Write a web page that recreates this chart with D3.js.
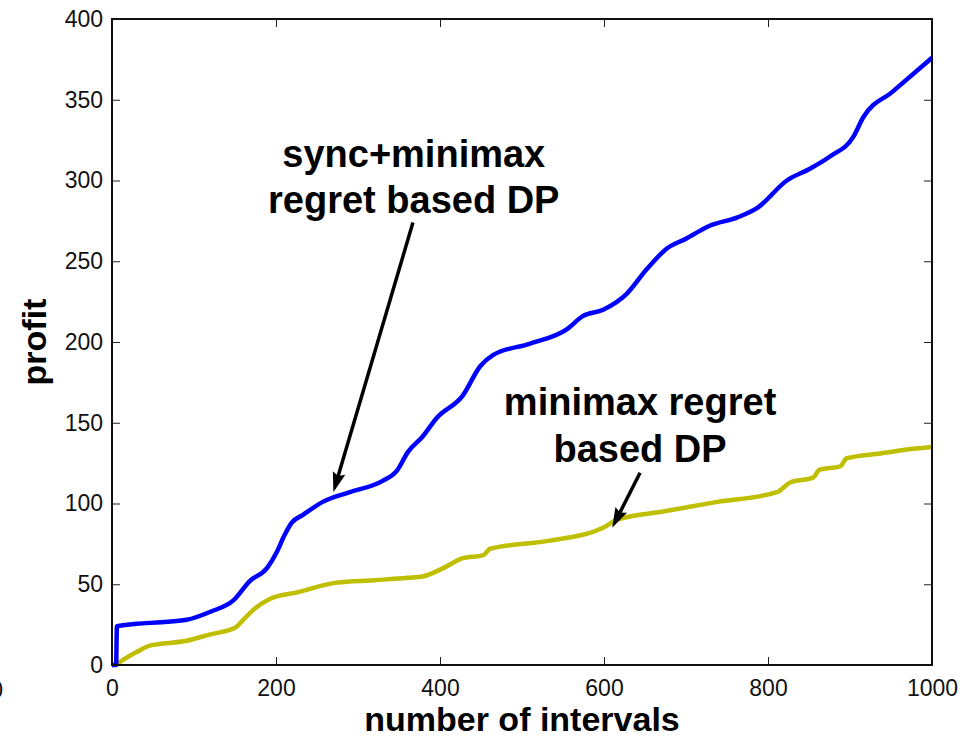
<!DOCTYPE html>
<html>
<head>
<meta charset="utf-8">
<script src="https://cdn.jsdelivr.net/npm/d3@7"></script>
<style>
  body { margin: 0; background: #fff; }
  svg { display: block; font-family: "Liberation Sans", Arial, Helvetica, sans-serif; }
</style>
</head>
<body>
<div id="chart"></div>
<script>
// sync+minimax regret based DP (blue)
const syncX = [0, 5, 6, 30, 60, 91, 120, 148, 168, 189, 201, 210, 219, 233, 257, 290, 330, 347, 361, 378, 396, 428, 449, 465, 510, 555, 574, 599, 628, 652, 677, 700, 729, 762, 787, 823, 850, 876, 904, 916, 952, 1000];
const syncY = [0, 0, 24, 25.5, 26.5, 28, 33, 40, 52, 60, 70, 80, 88, 93, 101, 107, 114, 120, 132, 141, 153, 167, 185, 192, 199, 208, 216, 220, 230, 245, 258, 264, 272, 277, 283, 300, 307, 315, 327, 339, 355, 376];

// minimax regret based DP (yellow)
const mmX = [0, 5, 13, 30, 46, 91, 120, 150, 160, 172, 193, 226, 274, 320, 361, 380, 404, 427, 453, 461, 534, 599, 616, 672, 738, 811, 827, 855, 863, 888, 896, 937, 980, 1000];
const mmY = [0, 0.5, 3, 8, 12, 15, 19, 23, 28, 34, 41, 45, 51, 52.5, 54, 55, 60, 66, 68, 72, 77, 85, 90, 95, 101, 107, 113, 116, 121, 123, 128, 131, 134, 135];

const xTicks = [0, 200, 400, 600, 800, 1000];
const yTicks = [0, 50, 100, 150, 200, 250, 300, 350, 400];

const W = 965, H = 738;
const svg = d3.select("#chart").append("svg")
    .attr("width", W)
    .attr("height", H);

const x = d3.scaleLinear().domain([0, 1000]).range([112, 932]);
const y = d3.scaleLinear().domain([0, 400]).range([665, 19]);

// axes, ticks pointing inward
const tickStyle = g => {
    g.select(".domain").remove();
    g.selectAll(".tick line").attr("stroke", "#222").attr("stroke-width", 1);
    g.selectAll("text").style("font-size", "23px").attr("fill", "#111");
};

svg.append("g")
    .attr("transform", `translate(0,${y(0)})`)
    .call(d3.axisBottom(x).tickValues(xTicks).tickSize(-8).tickPadding(15).tickFormat(d3.format("d")))
    .call(tickStyle);

svg.append("g")
    .attr("transform", `translate(${x(0)},0)`)
    .call(d3.axisLeft(y).tickValues(yTicks).tickSize(-8).tickPadding(9).tickFormat(d3.format("d")))
    .call(tickStyle);

svg.append("g")
    .attr("transform", `translate(0,${y(400)})`)
    .call(d3.axisTop(x).tickValues(xTicks).tickSize(-8).tickFormat(""))
    .call(tickStyle);

svg.append("g")
    .attr("transform", `translate(${x(1000)},0)`)
    .call(d3.axisRight(y).tickValues(yTicks).tickSize(-8).tickFormat(""))
    .call(tickStyle);

// lines
const line = d3.line()
    .x(d => x(d[0]))
    .y(d => y(d[1]))
    .curve(d3.curveMonotoneX);

svg.append("path")
    .datum(mmX.map((v, i) => [v, mmY[i]]))
    .attr("d", line)
    .attr("fill", "none")
    .attr("stroke", "#bfbf00")
    .attr("stroke-width", 4.5)
    .attr("stroke-linejoin", "round");

svg.append("path")
    .datum(syncX.map((v, i) => [v, syncY[i]]))
    .attr("d", line)
    .attr("fill", "none")
    .attr("stroke", "#0000ff")
    .attr("stroke-width", 4.5)
    .attr("stroke-linejoin", "round");

// frame
svg.append("rect")
    .attr("x", x(0))
    .attr("y", y(400))
    .attr("width", x(1000) - x(0))
    .attr("height", y(0) - y(400))
    .attr("fill", "none")
    .attr("stroke", "#111")
    .attr("stroke-width", 2);

// annotations
const notes = [
    { lines: ["sync+minimax", "regret based DP"], cx: 368, y0: 308.5, y1: 280, from: [367, 274], to: [270, 107] },
    { lines: ["minimax regret", "based DP"], cx: 644, y0: 154.6, y1: 125.5, from: [644, 119], to: [610, 85] }
];

notes.forEach(n => {
    [n.y0, n.y1].forEach((yy, i) => {
        svg.append("text")
            .attr("x", x(n.cx))
            .attr("y", y(yy))
            .attr("text-anchor", "middle")
            .style("font-size", "38px")
            .style("font-weight", "bold")
            .attr("fill", "#000")
            .text(n.lines[i]);
    });

    const x1 = x(n.from[0]), y1 = y(n.from[1]);
    const x2 = x(n.to[0]), y2 = y(n.to[1]);
    const a = Math.atan2(y2 - y1, x2 - x1);
    const len = 20, half = 6.5;
    const bx = x2 - len * Math.cos(a), by = y2 - len * Math.sin(a);
    svg.append("line")
        .attr("x1", x1).attr("y1", y1)
        .attr("x2", bx + 4 * Math.cos(a)).attr("y2", by + 4 * Math.sin(a))
        .attr("stroke", "#000")
        .attr("stroke-width", 3.5);
    svg.append("path")
        .attr("d", `M${x2},${y2}L${bx - half * Math.sin(a)},${by + half * Math.cos(a)}L${bx + 3 * Math.cos(a)},${by + 3 * Math.sin(a)}L${bx + half * Math.sin(a)},${by - half * Math.cos(a)}Z`)
        .attr("fill", "#000");
});

// axis labels
svg.append("text")
    .attr("x", x(500))
    .attr("y", 731)
    .attr("text-anchor", "middle")
    .style("font-size", "34px")
    .style("font-weight", "bold")
    .text("number of intervals");

svg.append("text")
    .attr("transform", `translate(46,${y(200)}) rotate(-90)`)
    .attr("text-anchor", "middle")
    .style("font-size", "34px")
    .style("font-weight", "bold")
    .text("profit");

// stray clipped tick label at the left edge
svg.append("text")
    .attr("x", 3)
    .attr("y", 698)
    .attr("text-anchor", "end")
    .style("font-size", "23px")
    .attr("fill", "#111")
    .text("0");
</script>
</body>
</html>
